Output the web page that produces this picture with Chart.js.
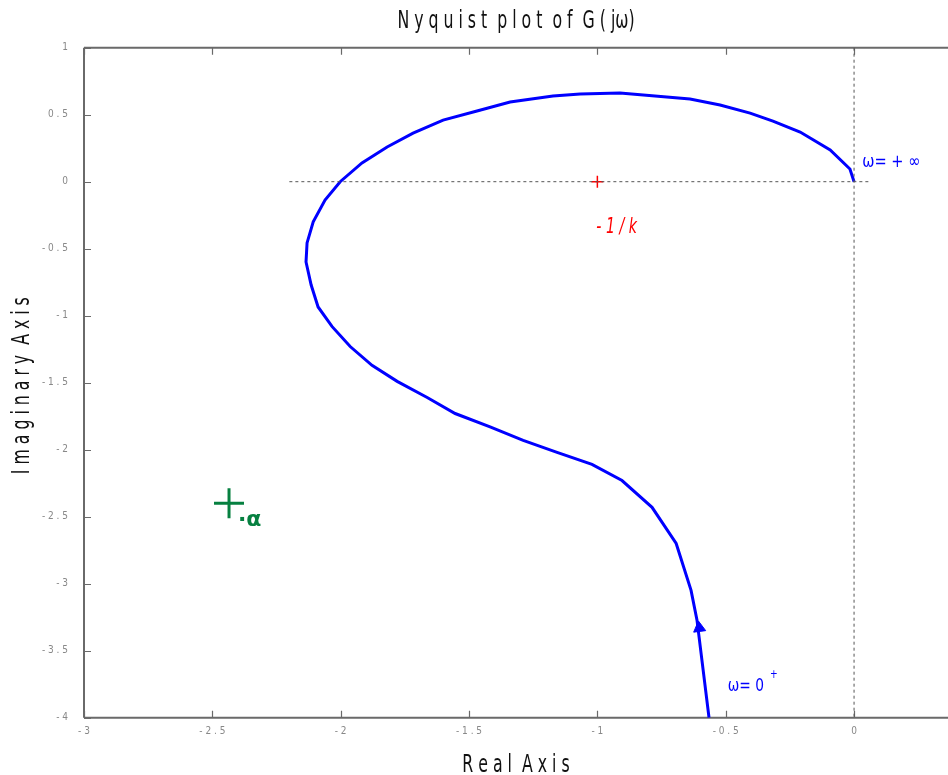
<!DOCTYPE html>
<html>
<head>
<meta charset="utf-8">
<script src="https://cdn.jsdelivr.net/npm/chart.js@4/dist/chart.umd.min.js"></script>
<style>
html,body{margin:0;padding:0;background:#fff;overflow:hidden;}
#wrap{width:948px;height:775px;position:relative;overflow:hidden;}
canvas{display:block;}
</style>
</head>
<body>
<div id="wrap"><canvas id="c" width="948" height="775"></canvas></div>
<script>
// ---- data ----
const curveRe = [-0.565,-0.612,-0.635,-0.693,-0.787,-0.904,-1.021,-1.157,-1.289,-1.418,-1.554,-1.663,-1.780,-1.878,-1.963,-2.034,-2.088,-2.115,-2.135,-2.131,-2.107,-2.061,-2.002,-1.917,-1.819,-1.718,-1.601,-1.469,-1.340,-1.173,-1.067,-0.912,-0.639,-0.522,-0.405,-0.316,-0.210,-0.093,-0.016,0];
const curveIm = [-4.0,-3.27,-3.05,-2.70,-2.43,-2.23,-2.11,-2.02,-1.93,-1.83,-1.73,-1.61,-1.49,-1.37,-1.23,-1.08,-0.935,-0.771,-0.599,-0.457,-0.300,-0.137,0,0.140,0.259,0.363,0.460,0.528,0.595,0.640,0.655,0.662,0.617,0.572,0.512,0.452,0.371,0.237,0.095,0];
const hLineRe = [-2.2, 0.065];
const hLineIm = [0, 0];
const vLineRe = [0, 0];
const vLineIm = [1, -4];
const criticalPoint = [-1, 0];
const alphaPoint = [-2.435, -2.40];
const arrowPoint = [-0.603, -3.33];
const xTicks = [-3, -2.5, -2, -1.5, -1, -0.5, 0];
const yTicks = [1, 0.5, 0, -0.5, -1, -1.5, -2, -2.5, -3, -3.5, -4];
const titleText = "N y q u i s t  p l o t  o f  G ( jω)";
const xTitle = "R e a l  A x i s";
const yTitle = "I m a g i n a r y  A x i s";
const labelCritical = "- 1 / k";
const labelInf = "ω= + ∞";
const labelZero = "ω= 0";
const labelAlpha = "·α";

const pts = (xs, ys) => xs.map((x, i) => ({x: x, y: ys[i]}));
const spaced = v => String(v).split('').join(' ');
const NARROW = "'Liberation Sans Narrow','DejaVu Sans Condensed','Roboto Condensed',sans-serif";

function narrowText(ctx, text, x, y, sx, align, rot) {
  ctx.save();
  ctx.translate(x, y);
  if (rot) ctx.rotate(rot);
  ctx.scale(sx, 1);
  ctx.textAlign = align || 'left';
  ctx.fillText(text, 0, 0);
  ctx.restore();
}

const framePlugin = {
  id: 'frame',
  beforeDatasetsDraw(chart) {
    const {ctx, chartArea: a, scales: {x, y}} = chart;
    ctx.save();
    ctx.strokeStyle = '#6a6a6a';
    ctx.lineWidth = 2;
    ctx.beginPath();
    ctx.moveTo(a.left, a.top); ctx.lineTo(a.right, a.top);
    ctx.moveTo(a.left, a.top); ctx.lineTo(a.left, a.bottom);
    ctx.moveTo(a.left, a.bottom); ctx.lineTo(a.right, a.bottom);
    ctx.stroke();
    ctx.lineWidth = 1.2;
    ctx.beginPath();
    xTicks.forEach(v => {
      const px = Math.round(x.getPixelForValue(v)) + 0.5;
      ctx.moveTo(px, a.top); ctx.lineTo(px, a.top + 7);
      ctx.moveTo(px, a.bottom); ctx.lineTo(px, a.bottom - 7);
    });
    yTicks.forEach(v => {
      const py = Math.round(y.getPixelForValue(v)) + 0.5;
      ctx.moveTo(a.left, py); ctx.lineTo(a.left + 7, py);
    });
    ctx.stroke();
    ctx.restore();
  },
  afterDatasetsDraw(chart) {
    const {ctx, chartArea: a, scales: {x, y}} = chart;
    ctx.save();
    ctx.textBaseline = 'middle';
    ctx.fillStyle = '#ff0000';
    ctx.font = "italic 21px " + NARROW;
    narrowText(ctx, labelCritical, x.getPixelForValue(-1) - 1, y.getPixelForValue(-0.34), 0.75);
    ctx.fillStyle = '#0000ff';
    ctx.font = "18px " + NARROW;
    narrowText(ctx, labelInf, x.getPixelForValue(0.032), y.getPixelForValue(0.145), 0.9);
    const zx = x.getPixelForValue(-0.492), zy = y.getPixelForValue(-3.765);
    narrowText(ctx, labelZero, zx, zy, 0.85);
    const w = ctx.measureText(labelZero).width * 0.85;
    ctx.font = "12px " + NARROW;
    narrowText(ctx, "+", zx + w + 6, zy - 11, 0.85);
    ctx.fillStyle = '#068040';
    ctx.font = "bold 22px 'DejaVu Sans',sans-serif";
    narrowText(ctx, labelAlpha, x.getPixelForValue(-2.40), y.getPixelForValue(-2.53), 1);
    ctx.fillStyle = '#111';
    ctx.font = "25px " + NARROW;
    narrowText(ctx, titleText, (a.left + a.right) / 2, 21, 0.7, 'center');
    narrowText(ctx, xTitle, (a.left + a.right) / 2, 765, 0.7, 'center');
    narrowText(ctx, yTitle, 22, (a.top + a.bottom) / 2 + 3, 0.7, 'center', -Math.PI / 2);
    ctx.restore();
  }
};

new Chart(document.getElementById('c'), {
  type: 'scatter',
  data: {
    datasets: [
      {data: pts(hLineRe, hLineIm), showLine: true, borderColor: '#555', borderWidth: 1, borderDash: [3, 3], pointRadius: 0},
      {data: pts(vLineRe, vLineIm), showLine: true, borderColor: '#555', borderWidth: 1, borderDash: [3, 3], pointRadius: 0},
      {data: pts(curveRe, curveIm), showLine: true, borderColor: '#0000ff', borderWidth: 3, pointRadius: 0, tension: 0},
      {data: [{x: criticalPoint[0], y: criticalPoint[1]}], pointStyle: 'cross', pointRadius: 6, borderColor: '#ff0000', backgroundColor: '#ff0000', pointBorderWidth: 1.5},
      {data: [{x: alphaPoint[0], y: alphaPoint[1]}], pointStyle: 'cross', pointRadius: 15, borderColor: '#068040', backgroundColor: '#068040', pointBorderWidth: 3},
      {data: [{x: arrowPoint[0], y: arrowPoint[1]}], pointStyle: 'triangle', pointRadius: 7, pointRotation: -7, borderColor: '#0000ff', backgroundColor: '#0000ff', pointBorderWidth: 1}
    ]
  },
  options: {
    responsive: false,
    animation: false,
    events: [],
    layout: {autoPadding: false, padding: {top: 47.7, left: 0, right: 0, bottom: 0}},
    plugins: {legend: {display: false}, tooltip: {enabled: false}, title: {display: false}},
    scales: {
      x: {
        type: 'linear', min: -3, max: 0.366,
        afterFit: s => { s.height = 57.3; s.paddingLeft = 0; s.paddingRight = 0; },
        grid: {display: false, drawTicks: false},
        border: {display: false},
        ticks: {stepSize: 0.5, includeBounds: false, padding: 8, maxRotation: 0, color: '#888',
          font: {size: 10, family: NARROW}, callback: v => spaced(v)},
        title: {display: false}
      },
      y: {
        type: 'linear', min: -4, max: 1,
        afterFit: s => { s.width = 84; s.paddingTop = 0; s.paddingBottom = 0; },
        grid: {display: false, drawTicks: false},
        border: {display: false},
        ticks: {stepSize: 0.5, padding: 16, color: '#888',
          font: {size: 10, family: NARROW}, callback: v => spaced(v)},
        title: {display: false}
      }
    }
  },
  plugins: [framePlugin]
});
</script>
</body>
</html>
